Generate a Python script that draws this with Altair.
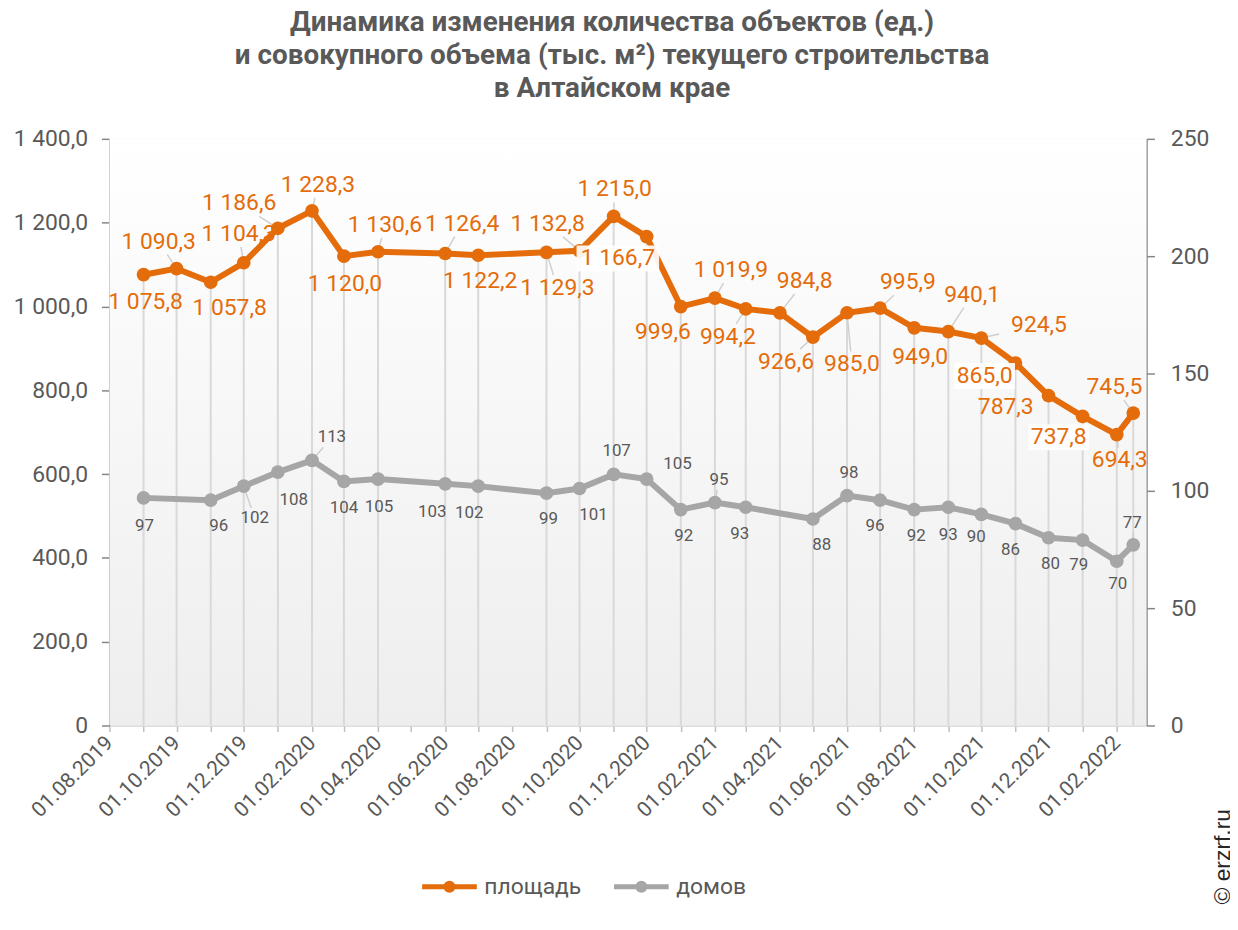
import altair as alt
import pandas as pd

# ---------------- data ----------------
DATES = ["2019-09-01", "2019-10-01", "2019-11-01", "2019-12-01", "2020-01-01",
         "2020-02-01", "2020-03-01", "2020-04-01", "2020-06-01", "2020-07-01",
         "2020-09-01", "2020-10-01", "2020-11-01", "2020-12-01", "2021-01-01",
         "2021-02-01", "2021-03-01", "2021-04-01", "2021-05-01", "2021-06-01",
         "2021-07-01", "2021-08-01", "2021-09-01", "2021-10-01", "2021-11-01",
         "2021-12-01", "2022-01-01", "2022-02-01", "2022-02-16"]
AREA = [1075.8, 1090.3, 1057.8, 1104.3, 1186.6, 1228.3, 1120.0, 1130.6, 1126.4,
        1122.2, 1129.3, 1132.8, 1215.0, 1166.7, 999.6, 1019.9, 994.2, 984.8,
        926.6, 985.0, 995.9, 949.0, 940.1, 924.5, 865.0, 787.3, 737.8, 694.3, 745.5]
HOUSES = [97, None, 96, 102, 108, 113, 104, 105, 103, 102, 99, 101, 107, 105,
          92, 95, 93, None, 88, 98, 96, 92, 93, 90, 86, 80, 79, 70, 77]
SERIES = ["площадь", "домов"]

# label placement: pixel offsets of each data label from its point, leader-line
# flags and white label-box flags
AREA_DX = [2, -18, 19, -5, -39, 6, 1, 7, 17, 2, 11, -32, 1, -29, -18, 16, -18,
           25, -27, 5, 28, 6, 24, 58, -31, -43, -24, 3, -19]
AREA_DY = [27, -27, 26, -29, -25, -26, 28, -27, -30, 26, 36, -27, -27, 22, 26,
           -28, 28, -32, 25, 52, -26, 29, -37, -13, 13, 12, 21, 26, -26]
AREA_LEADER = [0, 1, 0, 1, 1, 1, 0, 1, 1, 0, 1, 1, 1, 0, 0, 1, 1, 1, 1, 1, 1, 0,
               1, 1, 0, 1, 0, 1, 1]
AREA_BOX = [0, 0, 0, 0, 0, 0, 0, 0, 0, 0, 0, 0, 0, 1, 0, 0, 0, 0, 0, 0, 0, 0,
            0, 0, 1, 0, 1, 0, 0]
HOUSE_DX = [1, 0, 8, 11, 16, 20, 0, 1, -13, -9, 2, 14, 3, 31, 3, 4, -6, 0, 9, 2,
            -5, 2, 0, -5, -5, 2, -4, 1, -1]
HOUSE_DY = [28, 0, 26, 32, 28, -23, 27, 28, 28, 27, 26, 27, -24, -15, 27, -23, 27,
            0, 26, -23, 26, 27, 28, 23, 26, 26, 25, 23, -22]
HOUSE_LEADER = [0, 0, 0, 1, 0, 1, 0, 0, 0, 0, 0, 0, 0, 0, 0, 1, 0, 0, 0, 0, 0, 0,
                1, 0, 0, 0, 0, 0, 1]
HOUSE_BOX = [0] * 29

ORANGE = "#E46C0A"
GRAY = "#A6A6A6"
TXT = "#595959"
FONT = "Roboto"

W, H = 1043, 590
X_MIN, X_MAX = pd.Timestamp("2019-08-01"), pd.Timestamp("2022-02-28")
YL_MAX, YR_MAX = 1400, 250
PX_PER_DAY = W / (X_MAX - X_MIN).days


def fmt_area(v):
    s = f"{v:,.1f}"
    return s.replace(",", " ").replace(".", ",")


def iso(ts):
    return ts.strftime("%Y-%m-%dT%H:%M:%S") + "Z"


def shift_x(d, px):
    return iso(pd.Timestamp(d) + pd.Timedelta(days=px / PX_PER_DAY))


def shift_y(v, px, ymax):
    return v - px * ymax / H


def build(values, dxs, dys, leaders, boxes, labels, ymax, hw, hh, cw, series):
    rows = []
    for d, v, dx, dy, ld, bx, lab in zip(DATES, values, dxs, dys, leaders, boxes, labels):
        if v is None:
            continue
        t = min(hw / abs(dx) if dx else 9e9, hh / abs(dy) if dy else 9e9)
        f = max(0.0, 1 - t) if ld else 0.0
        bw = len(lab) * cw / 2 + 3
        rows.append({
            "date": iso(pd.Timestamp(d)), "value": v, "series": series, "label": lab,
            "ldate": shift_x(d, dx), "lvalue": shift_y(v, dy, ymax),
            "edate": shift_x(d, dx * f), "evalue": shift_y(v, dy * f, ymax),
            "leader": bool(ld and f > 0.05), "box": bool(bx),
            "bx1": shift_x(d, dx - bw), "bx2": shift_x(d, dx + bw),
            "by1": shift_y(v, dy - hh, ymax), "by2": shift_y(v, dy + hh, ymax),
        })
    return pd.DataFrame(rows)


area_df = build(AREA, AREA_DX, AREA_DY, AREA_LEADER, AREA_BOX,
                [fmt_area(v) for v in AREA], YL_MAX, 40, 13, 11.0, SERIES[0])
house_df = build(HOUSES, HOUSE_DX, HOUSE_DY, HOUSE_LEADER, HOUSE_BOX,
                 [str(v) if v is not None else "" for v in HOUSES], YR_MAX, 15, 10, 9.5,
                 SERIES[1])

# ---------------- scales / axes ----------------
month_ticks = []
yy, mm = 2019, 8
while (yy, mm) <= (2022, 2):
    month_ticks.append(alt.DateTime(year=yy, month=mm, date=1, utc=True))
    mm += 1
    if mm > 12:
        mm, yy = 1, yy + 1

x_scale = alt.Scale(type="utc",
                    domain=[alt.DateTime(year=2019, month=8, date=1, utc=True),
                            alt.DateTime(year=2022, month=2, date=28, utc=True)])
x_axis = alt.Axis(
    values=month_ticks,
    labelExpr="utcmonth(datum.value) % 2 == 1 ? utcFormat(datum.value, '%d.%m.%Y') : ''",
    labelAngle=-45, labelAlign="right", labelBaseline="middle",
    labelFontSize=21, labelColor=TXT, labelFont=FONT, labelPadding=8,
    labelFlush=False, labelOverlap=False,
    tickSize=6, tickColor="#bfbfbf", tickWidth=1.5,
    domainColor="#d9d9d9", domainWidth=1.5, grid=False, title=None,
)
x_enc = alt.X("date:T", scale=x_scale, axis=x_axis)
xl_enc = alt.X("ldate:T", scale=x_scale, axis=x_axis)
xe_enc = alt.X2("edate:T")

yL = alt.Scale(domain=[0, YL_MAX], nice=False)
axL = alt.Axis(
    values=list(range(0, YL_MAX + 1, 200)),
    labelExpr="datum.value == 0 ? '0' : replace(replace(format(datum.value, ',.1f'), ',', ' '), '.', ',')",
    labelFontSize=23, labelColor=TXT, labelFont=FONT, labelPadding=14,
    tickSize=8, tickColor="#868686", domainColor="#868686", domainWidth=1.5,
    tickWidth=1.5, grid=False, title=None, orient="left",
)
yR = alt.Scale(domain=[0, YR_MAX], nice=False)
axR = alt.Axis(
    values=list(range(0, YR_MAX + 1, 50)),
    labelFontSize=23, labelColor=TXT, labelFont=FONT, labelPadding=16,
    tickSize=8, tickColor="#868686", domainColor="#868686", domainWidth=1.5,
    tickWidth=1.5, grid=False, title=None, orient="right",
)

color_scale = alt.Scale(domain=SERIES, range=[ORANGE, GRAY])
LEG_PATH = ("M-1,0L1,0"
            "M-0.13,0a0.13,0.13 0 1,0 0.26,0a0.13,0.13 0 1,0 -0.26,0"
            "M-0.05,0a0.05,0.05 0 1,0 0.1,0a0.05,0.05 0 1,0 -0.1,0")
legend = alt.Legend(
    orient="none", legendX=312, legendY=722, direction="horizontal", title=None,
    symbolType=LEG_PATH, symbolSize=3025, symbolStrokeWidth=5,
    labelFontSize=23, labelFont=FONT, labelColor=TXT, labelOffset=5,
    columnPadding=22, padding=0,
)

# ---------------- left (area) layer ----------------
bg = alt.Chart(alt.Data(values=[{}])).mark_rect(
    color=alt.LinearGradient(
        gradient="linear",
        stops=[alt.GradientStop(color="#ffffff", offset=0),
               alt.GradientStop(color="#eeeeee", offset=1)],
        x1=0, x2=0, y1=0, y2=1),
).encode(x=alt.value(0), x2=alt.value(W), y=alt.value(0), y2=alt.value(H))

drops = alt.Chart(area_df).mark_rule(color="#d9d9d9", strokeWidth=2).encode(
    x=x_enc, y=alt.Y("value:Q", scale=yL, axis=axL), y2=alt.datum(0))

area_lead = alt.Chart(area_df).transform_filter("datum.leader").mark_rule(
    color="#cfcfcf", strokeWidth=1.5).encode(
    x=x_enc, x2=xe_enc, y=alt.Y("value:Q", scale=yL, axis=axL), y2="evalue:Q")

area_line = alt.Chart(area_df).mark_line(strokeWidth=6).encode(
    x=x_enc, y=alt.Y("value:Q", scale=yL, axis=axL),
    color=alt.Color("series:N", scale=color_scale, legend=legend))

area_pts = alt.Chart(area_df).mark_circle(size=190, opacity=1).encode(
    x=x_enc, y=alt.Y("value:Q", scale=yL, axis=axL),
    color=alt.Color("series:N", scale=color_scale, legend=None))

area_box = alt.Chart(area_df).transform_filter("datum.box").mark_rect(
    color="white", opacity=0.9).encode(
    x=alt.X("bx1:T", scale=x_scale, axis=x_axis), x2="bx2:T",
    y=alt.Y("by1:Q", scale=yL, axis=axL), y2="by2:Q")

area_txt = alt.Chart(area_df).mark_text(
    fontSize=23, font=FONT, align="center", baseline="middle", color=ORANGE
).encode(x=xl_enc, y=alt.Y("lvalue:Q", scale=yL, axis=axL), text="label:N")

watermark = alt.Chart(alt.Data(values=[{"t": "© erzrf.ru"}])).mark_text(
    angle=270, fontSize=23, font="Liberation Sans", color="#262626",
    align="center", baseline="middle",
).encode(x=alt.value(1120), y=alt.value(722), text="t:N")

left = alt.layer(bg, drops, area_lead, area_line, area_pts, area_box, area_txt,
                 watermark)

# ---------------- right (houses) layer ----------------
house_lead = alt.Chart(house_df).transform_filter("datum.leader").mark_rule(
    color="#cfcfcf", strokeWidth=1.5).encode(
    x=x_enc, x2=xe_enc, y=alt.Y("value:Q", scale=yR, axis=axR), y2="evalue:Q")
house_line = alt.Chart(house_df).mark_line(strokeWidth=6).encode(
    x=x_enc, y=alt.Y("value:Q", scale=yR, axis=axR),
    color=alt.Color("series:N", scale=color_scale, legend=None))
house_pts = alt.Chart(house_df).mark_circle(size=190, opacity=1).encode(
    x=x_enc, y=alt.Y("value:Q", scale=yR, axis=axR),
    color=alt.Color("series:N", scale=color_scale, legend=None))
house_txt = alt.Chart(house_df).mark_text(
    fontSize=17, font=FONT, align="center", baseline="middle", color=TXT
).encode(x=xl_enc, y=alt.Y("lvalue:Q", scale=yR, axis=axR), text="label:N")

right = alt.layer(house_lead, house_line, house_pts, house_txt)

chart = alt.layer(left, right).resolve_scale(y="independent").properties(
    width=W, height=H,
    autosize=alt.AutoSizeParams(type="none"),
    padding={"left": 102, "top": 129, "right": 84, "bottom": 190},
    title=alt.TitleParams(
        text=["Динамика изменения количества объектов (ед.)",
              "и совокупного объема (тыс. м²) текущего строительства",
              "в Алтайском крае"],
        fontSize=28, font=FONT, fontWeight="bold", color=TXT,
        anchor="middle", dx=-16, offset=25, lineHeight=33,
    ),
).configure_view(stroke=None).configure(font=FONT)

chart.save("out.html", embed_options={"renderer": "svg", "actions": False})
